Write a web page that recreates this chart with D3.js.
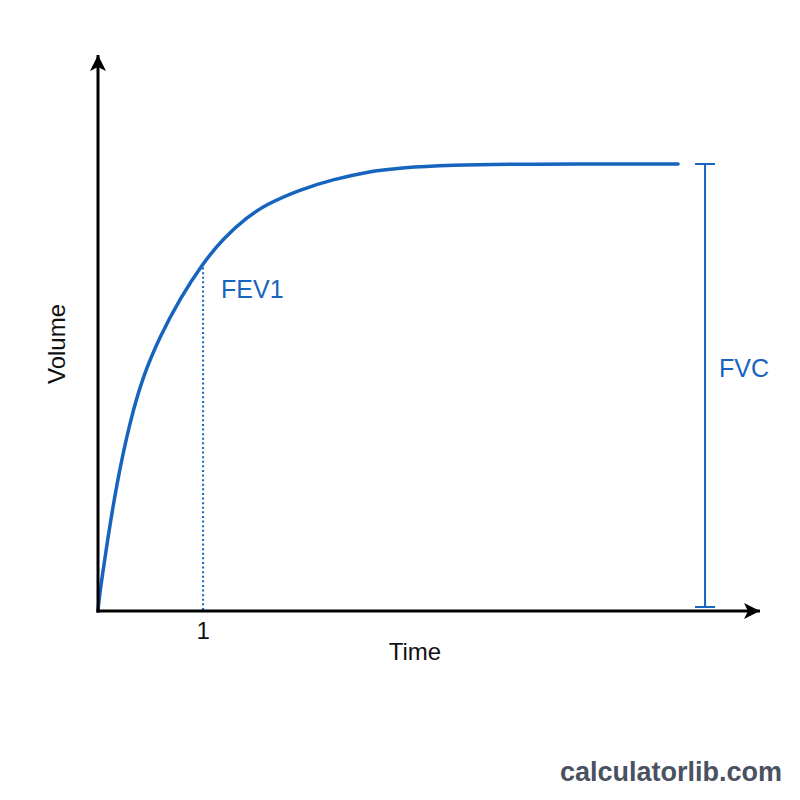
<!DOCTYPE html>
<html>
<head>
<meta charset="utf-8">
<script src="https://cdn.jsdelivr.net/npm/d3@7"></script>
<style>
  body { margin: 0; background: #fff; }
  text { font-family: "Liberation Sans", Arial, sans-serif; }
</style>
</head>
<body>
<div id="chart"></div>
<script>
// spirometry volume-time curve
var timeVals   = [0, 0.01, 0.035, 0.083, 0.178, 0.305, 0.431, 0.59, 0.78, 1.0, 1.192, 1.415, 1.608, 1.922, 2.236, 2.56, 2.874, 3.35, 4.016, 5.52, 5.52];
var volumeVals = [0, 0.1, 0.28, 0.59, 1.15, 1.71, 2.12, 2.47, 2.81, 3.13, 3.35, 3.54, 3.66, 3.79, 3.88, 3.95, 3.985, 4.01, 4.02, 4.02, 4.02];
var xTicks = [1];
var fev1Time = 1, fev1Volume = 3.13;
var fvcTime = 5.777, fvcVolume = 4.02;

var width = 800,
    height = 800,
    blue = "#1664bd";

var x = d3.scaleLinear().domain([0, 6.3]).range([98, 760]);
var y = d3.scaleLinear().domain([0, 5]).range([611, 55]);

var svg = d3.select("#chart").append("svg")
    .attr("width", width)
    .attr("height", height);

var defs = svg.append("defs");
defs.append("marker")
    .attr("id", "arrow")
    .attr("markerUnits", "userSpaceOnUse")
    .attr("viewBox", "0 0 16 16")
    .attr("refX", 16)
    .attr("refY", 8)
    .attr("markerWidth", 16)
    .attr("markerHeight", 16)
    .attr("orient", "auto")
    .append("path")
    .attr("d", "M0,0 L16,8 L0,16 L4,8 Z")
    .attr("fill", "#000");

// FEV1 dotted drop line
svg.append("line")
    .attr("x1", x(fev1Time)).attr("x2", x(fev1Time))
    .attr("y1", y(fev1Volume)).attr("y2", y(0))
    .attr("stroke", blue)
    .attr("stroke-width", 2)
    .attr("stroke-dasharray", "2,2.6");

// FVC bracket
svg.append("line")
    .attr("x1", x(fvcTime)).attr("x2", x(fvcTime))
    .attr("y1", y(fvcVolume)).attr("y2", y(0) - 4)
    .attr("stroke", blue)
    .attr("stroke-width", 2);
[y(fvcVolume), y(0) - 4].forEach(function (yy) {
    svg.append("line")
        .attr("x1", x(fvcTime) - 10).attr("x2", x(fvcTime) + 10)
        .attr("y1", yy).attr("y2", yy)
        .attr("stroke", blue)
        .attr("stroke-width", 2);
});

// curve
var line = d3.line()
    .x(function (d) { return x(d[0]); })
    .y(function (d) { return y(d[1]); })
    .curve(d3.curveBasis);

svg.append("path")
    .datum(d3.zip(timeVals, volumeVals))
    .attr("d", line)
    .attr("fill", "none")
    .attr("stroke", blue)
    .attr("stroke-width", 3.5)
    .attr("stroke-linecap", "round");

// axes
svg.append("line")
    .attr("x1", x(0) - 1.5).attr("x2", x.range()[1])
    .attr("y1", y(0)).attr("y2", y(0))
    .attr("stroke", "#000").attr("stroke-width", 3)
    .attr("marker-end", "url(#arrow)");
svg.append("line")
    .attr("x1", x(0)).attr("x2", x(0))
    .attr("y1", y(0) + 1.5).attr("y2", y.range()[1])
    .attr("stroke", "#000").attr("stroke-width", 3)
    .attr("marker-end", "url(#arrow)");

// tick label(s)
svg.selectAll(".tick-label")
    .data(xTicks)
    .enter().append("text")
    .attr("class", "tick-label")
    .attr("x", function (d) { return x(d); })
    .attr("y", y(0) + 28)
    .attr("text-anchor", "middle")
    .attr("font-size", 24)
    .attr("fill", "#111")
    .text(function (d) { return d; });

// labels
svg.append("text")
    .attr("x", 415).attr("y", 660)
    .attr("text-anchor", "middle")
    .attr("font-size", 24)
    .attr("fill", "#111")
    .text("Time");

svg.append("text")
    .attr("transform", "translate(65,344) rotate(-90)")
    .attr("text-anchor", "middle")
    .attr("font-size", 24)
    .attr("fill", "#111")
    .text("Volume");

svg.append("text")
    .attr("x", x(fev1Time) + 18).attr("y", y(fev1Volume) + 35)
    .attr("font-size", 25)
    .attr("fill", blue)
    .text("FEV1");

svg.append("text")
    .attr("x", x(fvcTime) + 14).attr("y", y(fvcVolume / 2) - 10)
    .attr("font-size", 25)
    .attr("fill", blue)
    .text("FVC");

svg.append("text")
    .attr("x", 782).attr("y", 781)
    .attr("text-anchor", "end")
    .attr("font-size", 27)
    .attr("font-weight", "bold")
    .attr("fill", "#4a5261")
    .text("calculatorlib.com");
</script>
</body>
</html>
